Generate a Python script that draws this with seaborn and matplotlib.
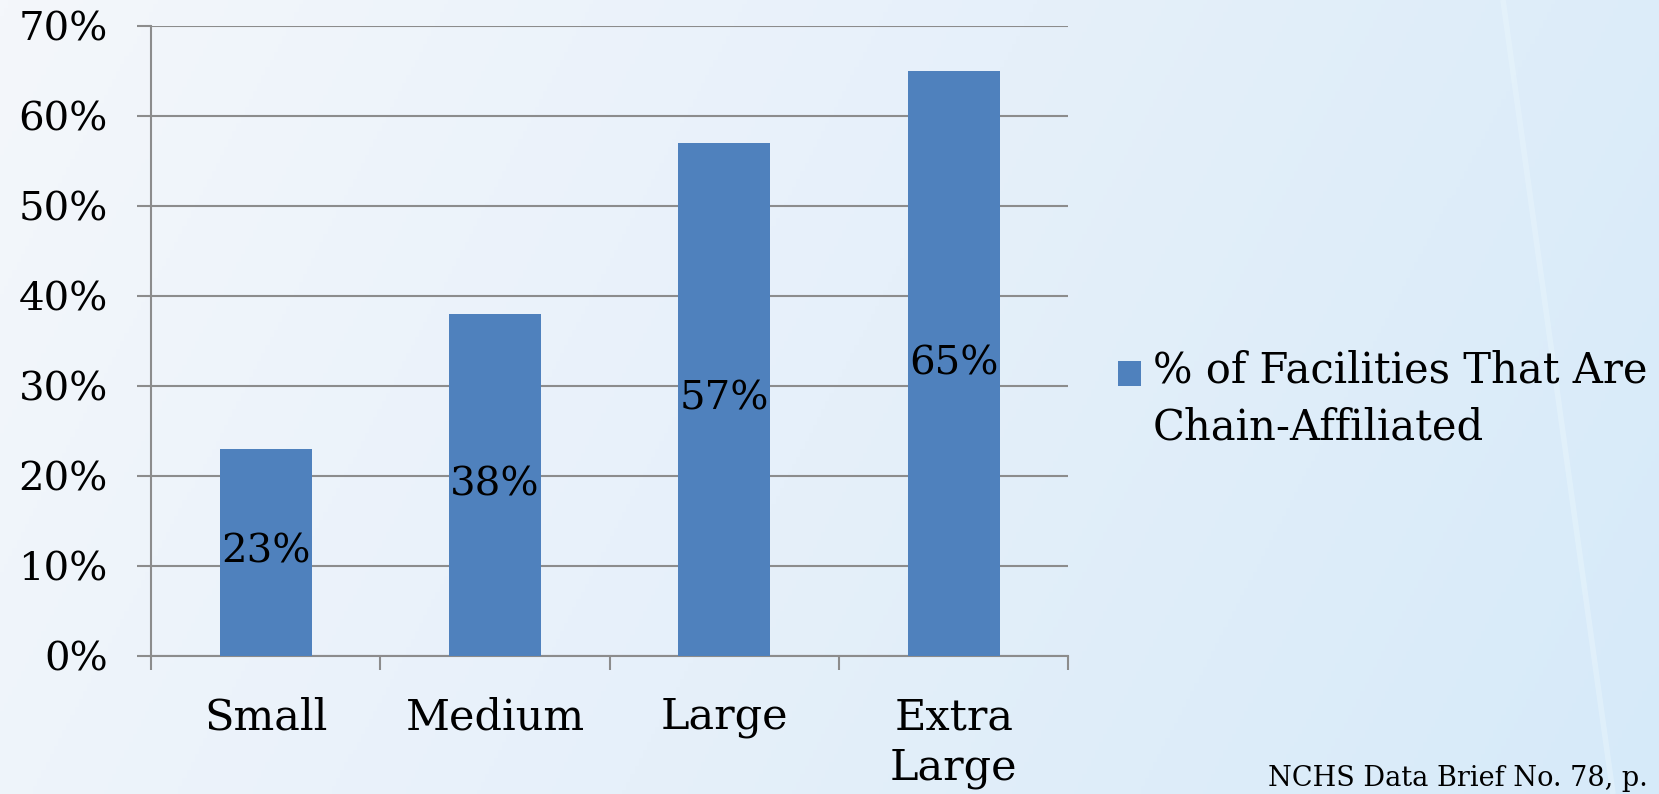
import numpy as np
import pandas as pd
import matplotlib
matplotlib.use("Agg")
import matplotlib.pyplot as plt
import seaborn as sns
from matplotlib.ticker import PercentFormatter, FixedLocator
from matplotlib.colors import LinearSegmentedColormap
from matplotlib.container import BarContainer
from matplotlib.legend_handler import HandlerPatch, update_from_first_child
from matplotlib.patches import Rectangle

# data
categories = ["Small", "Medium", "Large", "Extra\nLarge"]
chain_pct = [23, 38, 57, 65]
series_name = "% of Facilities That Are\nChain-Affiliated"
source_note = "NCHS Data Brief No. 78, p."

df = pd.DataFrame({"size": categories, "pct": chain_pct})

sns.set_theme(style="white")
plt.rcParams["font.family"] = ["DejaVu Serif"]
plt.rcParams["text.color"] = "black"
plt.rcParams["xtick.color"] = "black"
plt.rcParams["ytick.color"] = "black"

fig = plt.figure(figsize=(16.59, 7.94), dpi=100)

# slide-like pale blue background with a faint light streak on the right
bg = fig.add_axes([0, 0, 1, 1], zorder=-10)
X, Y = np.meshgrid(np.linspace(0, 1, 400), np.linspace(0, 1, 200))
grad = 0.8 * X + 0.2 * Y
cmap = LinearSegmentedColormap.from_list("bg", ["#f4f7fb", "#e6f0fa", "#d6eaf9"])
bg.imshow(grad, cmap=cmap, aspect="auto", extent=[0, 1, 0, 1])
bg.plot([1503 / 1659, 1613 / 1659], [1, 0], color="#eaf7fd", lw=4, alpha=0.45,
        solid_capstyle="butt")
bg.set_xlim(0, 1)
bg.set_ylim(0, 1)
bg.axis("off")

ax = fig.add_axes([0.091, 0.174, 0.553, 0.793])
ax.patch.set_alpha(0)
sns.barplot(data=df, x="size", y="pct", color="#4f81bd", width=0.4,
            saturation=1, linewidth=0, ax=ax, label=series_name, zorder=3)
if ax.get_legend() is not None:
    ax.get_legend().remove()

ax.set_ylim(0, 70)
ax.set_xlim(-0.5, len(categories) - 0.5)
ax.yaxis.set_major_locator(FixedLocator(np.arange(0, 71, 10)))
ax.yaxis.set_major_formatter(PercentFormatter(xmax=100, decimals=0))
ax.yaxis.grid(True, color="#8c8c8c", lw=1.5)
ax.set_axisbelow(True)
ax.set_xlabel("")
ax.set_ylabel("")

for side in ["top", "right"]:
    ax.spines[side].set_visible(False)
for side in ["left", "bottom"]:
    ax.spines[side].set_color("#8c8c8c")
    ax.spines[side].set_linewidth(1.5)

# category ticks sit between the bars
ax.set_xticks(np.arange(-0.5, len(categories)), minor=True)
ax.tick_params(axis="x", which="minor", length=10, width=1.5, color="#8c8c8c", bottom=True)
ax.tick_params(axis="x", which="major", length=0, pad=29)
ax.tick_params(axis="y", length=10, width=1.5, color="#8c8c8c", left=True, pad=21)

for lab in ax.get_xticklabels():
    lab.set_fontsize(31)
    lab.set_linespacing(1.26)
    lab.set_verticalalignment("top")
for lab in ax.get_yticklabels():
    lab.set_fontsize(29)

ax.bar_label(ax.containers[0], labels=[f"{v}%" for v in chain_pct],
             label_type="center", fontsize=29, color="black")


# legend square lines up with the first line of the label
def first_line_patch(legend, orig_handle, xdescent, ydescent, width, height, fontsize):
    return Rectangle((-xdescent, -ydescent + 19.4), width, height)


handles, labels = ax.get_legend_handles_labels()
leg = fig.legend(handles, labels, loc="center left",
                 bbox_to_anchor=(1118 / 1659, 1 - 399 / 794),
                 frameon=False, fontsize=30, borderpad=0, borderaxespad=0,
                 handlelength=0.55, handleheight=0.55, handletextpad=0.29,
                 handler_map={BarContainer: HandlerPatch(patch_func=first_line_patch,
                                                         update_func=update_from_first_child)})
for t in leg.get_texts():
    t.set_linespacing(1.44)

fig.text(1268 / 1659, 1 - 786 / 794, source_note, fontsize=19.5, va="baseline", ha="left")

fig.savefig("out.png", dpi=100)
